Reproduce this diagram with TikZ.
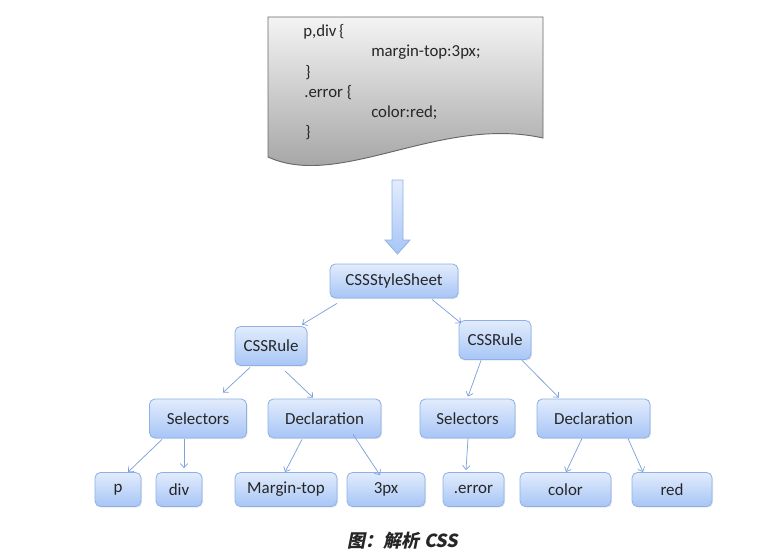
\documentclass[tikz,border=0pt]{standalone}
\usepackage{fontspec}
\setmainfont{Carlito}
\newfontfamily\capfont{Noto Sans CJK SC}[FakeSlant=0.2]
\usetikzlibrary{calc,arrows.meta,shadows}

\definecolor{boxtop}{HTML}{E2ECFC}
\definecolor{boxbot}{HTML}{A7C5F6}
\definecolor{boxline}{HTML}{8DB0E8}
\definecolor{edgeblue}{HTML}{7CA2DC}
\definecolor{doctop}{HTML}{F4F4F4}
\definecolor{docbot}{HTML}{9A9A9A}
\definecolor{docline}{HTML}{686868}
\definecolor{inktext}{HTML}{262626}

\begin{document}
\begin{tikzpicture}[x=0.75pt, y=-0.75pt,
    cssbox/.style={draw=boxline, line width=0.6pt, rounded corners=4pt,
      top color=boxtop, bottom color=boxbot, inner sep=0pt, text=inktext,
      font=\fontsize{12.7}{15}\selectfont,
      drop shadow={opacity=0.18, shadow xshift=0.8pt, shadow yshift=-0.8pt}},
    codeline/.style={anchor=base west, inner sep=0pt, text=inktext, font=\fontsize{12.6}{15}\selectfont},
    treeedge/.style={draw=edgeblue, line width=0.55pt, -{Straight Barb[length=3pt, width=5.5pt]}}]
    \useasboundingbox (0,0) rectangle (782,557);

    % source sheet
    \draw[draw=docline, line width=0.7pt, top color=doctop, bottom color=docbot]
      (268,17) -- (543,17) -- (543,138)
      .. controls (440,115) and (340,190) .. (268,157) -- cycle;
    \draw
    (303,36) node[codeline](l1){p,div\kern2pt\{}
    (371,56.5) node[codeline](l2){margin-top:3px;}
    (305,77) node[codeline](l3){\}}
    (304,97) node[codeline](l4){.error \{}
    (371,117) node[codeline](l5){color:red;}
    (305,137.5) node[codeline](l6){\}};

    % parse arrow
    \draw[draw=boxline, line width=0.6pt, top color=boxtop, bottom color=boxbot]
      (392,180) -- (403,180) -- (403,240) -- (410,240) -- (397.5,254)
      -- (385,240) -- (392,240) -- cycle;

    % tree
    \draw
    (394,281) node[cssbox, minimum width=96pt, minimum height=25.5pt](ss){CSSStyleSheet}
    (271,346) node[cssbox, minimum width=54pt, minimum height=29.25pt](ruleL){CSSRule}
    (495,340) node[cssbox, minimum width=54pt, minimum height=29.25pt](ruleR){CSSRule}
    (198,418.5) node[cssbox, minimum width=72.75pt, minimum height=29.25pt](selL){Selectors}
    (324.5,418.5) node[cssbox, minimum width=84.75pt, minimum height=29.25pt](declL){Declaration}
    (467.5,418.5) node[cssbox, minimum width=71.25pt, minimum height=29.25pt](selR){Selectors}
    (593.5,418.5) node[cssbox, minimum width=84.75pt, minimum height=29.25pt](declR){Declaration}
    (118,489.5) node[cssbox, minimum width=34.5pt, minimum height=25.5pt](p){p}
    (179,489.5) node[cssbox, minimum width=34.5pt, minimum height=25.5pt](div){div}
    (286,489.5) node[cssbox, minimum width=76.5pt, minimum height=25.5pt](margin){Margin-top}
    (386,489.5) node[cssbox, minimum width=58.5pt, minimum height=25.5pt](px3){3px}
    (473.5,489.5) node[cssbox, minimum width=45.75pt, minimum height=25.5pt](error){.error}
    (565.5,489.5) node[cssbox, minimum width=68.25pt, minimum height=25.5pt](color){color}
    (672,489.5) node[cssbox, minimum width=60pt, minimum height=25.5pt](red){red};

    \draw[treeedge] ($(ss.south)+(-57,5)$) -- ($(ruleL.north)+(31,-1.5)$);
    \draw[treeedge] ($(ss.south)+(38,1)$) -- ($(ruleR.north)+(-34,3)$);
    \draw[treeedge] ($(ruleL.south)+(-21,1.5)$) -- ($(selL.north)+(25,-6)$);
    \draw[treeedge] ($(ruleL.south)+(14,5)$) -- ($(declL.north)+(-11.5,-1)$);
    \draw[treeedge] ($(ruleR.south)+(-14,0.5)$) -- ($(selR.north)+(0.5,-2)$);
    \draw[treeedge] ($(ruleR.south)+(27,0.5)$) -- ($(declR.north)+(-34.5,-1)$);
    \draw[treeedge] ($(selL.south)+(-36,1)$) -- ($(p.north)+(10,0)$);
    \draw[treeedge] ($(selL.south)+(-14,1)$) -- ($(div.north)+(5,-4)$);
    \draw[treeedge] ($(declL.south)+(-22.5,1)$) -- ($(margin.north)+(-1,0)$);
    \draw[treeedge] ($(declL.south)+(28.5,-4)$) -- ($(px3.north)+(-6,3)$);
    \draw[treeedge] ($(selR.south)+(0.5,0)$) -- ($(error.north)+(-7.5,-2)$);
    \draw[treeedge] ($(declR.south)+(-11.5,0)$) -- ($(color.north)+(0.5,0)$);
    \draw[treeedge] ($(declR.south)+(34.5,0)$) -- ($(red.north)+(-29,0)$);

    % caption
    \node[font=\capfont\bfseries\fontsize{13.5}{16}\selectfont, text=black!85] (cap) at (403,541) {图：解析 CSS};
\end{tikzpicture}
\end{document}
